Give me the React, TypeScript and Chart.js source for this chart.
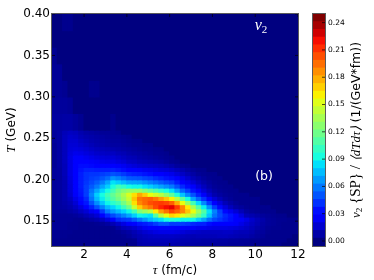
import { useEffect, useRef } from "react";
import { Chart, registerables } from "chart.js";
Chart.register(...registerables);

// tau column centres (fm/c), each cell 0.25 wide
const tauCenters = [0.625,0.875,1.125,1.375,1.625,1.875,2.125,2.375,2.625,2.875,3.125,3.375,3.625,3.875,4.125,4.375,4.625,4.875,5.125,5.375,5.625,5.875,6.125,6.375,6.625,6.875,7.125,7.375,7.625,7.875,8.125,8.375,8.625,8.875,9.125,9.375,9.625,9.875,10.125,10.375,10.625,10.875,11.125,11.375,11.625,11.875];
// T row edges (GeV), top to bottom
const tEdges = [0.40,0.38,0.36,0.34,0.32,0.30,0.28,0.26,0.255,0.25,0.245,0.24,0.235,0.23,0.225,0.22,0.215,0.21,0.205,0.20,0.195,0.19,0.185,0.18,0.175,0.17,0.165,0.16,0.155,0.15,0.145,0.14,0.135,0.13,0.125,0.12];
// v2 values x1000, one row per T band; missing trailing cells are 0
const v2Rows = [
[0,0,3,3],
[],
[4],
[5,5],
[5,5,4,0,0,0,0,3,3],
[6,6,6,5],
[7,7,8,8,6,4,0,0,0,0,0,3],
[6,8,12,14,13,10,8,7,6,5,5,4,3],
[6,8,13,16,15,12,10,9,8,7,6,5,5,4,3],
[6,8,13,17,17,14,12,10,9,8,7,6,6,5,4,3,3],
[5,8,13,18,18,16,14,12,10,9,8,7,7,6,5,4,4,3,3],
[5,8,13,19,20,19,17,15,13,12,11,10,9,8,7,6,5,4,4,3,3],
[5,8,13,20,23,22,20,18,16,15,14,14,12,11,9,8,7,6,5,4,4,3],
[5,8,13,21,26,26,24,22,20,19,18,18,16,14,12,11,9,8,7,6,5,4,3],
[5,8,13,21,28,29,28,26,25,23,22,22,20,18,15,14,12,11,10,9,8,6,4,3],
[5,8,12,21,29,33,33,32,30,29,28,28,26,24,21,19,17,16,15,14,13,11,9,6,4,3],
[6,7,12,21,30,35,38,38,37,37,37,38,36,33,30,28,26,24,23,21,19,18,16,13,10,7,5,3,3],
[6,7,12,21,30,37,42,43,43,45,47,50,48,44,40,38,37,35,33,30,27,25,23,19,15,11,8,5,4,3,3],
[6,7,11,20,30,37,42,45,47,51,56,66,62,57,52,51,50,47,45,41,38,35,33,27,22,17,12,9,6,4,3,3],
[6,7,10,19,30,37,43,48,53,60,70,85,80,75,70,69,68,64,60,56,52,48,45,37,30,24,18,13,9,6,4,3,3],
[6,7,10,18,29,37,45,52,60,70,80,93,105,100,92,90,90,85,80,75,70,65,60,50,40,33,26,19,13,8,5,4,3,3],
[6,7,10,18,27,36,45,58,70,82,92,105,118,125,130,130,130,122,115,108,100,92,85,70,55,45,35,26,18,12,7,5,4,3,3],
[6,7,10,17,26,35,45,62,80,92,105,115,125,137,150,165,180,170,155,148,140,128,115,95,78,63,50,38,26,17,10,7,5,4,3,3,3],
[6,7,10,14,22,32,40,58,75,88,100,110,120,132,145,172,192,196,198,192,182,172,160,140,115,92,70,55,42,28,18,12,7,5,3,3,3,3,3],
[6,7,9,12,18,27,36,50,65,78,90,98,105,120,135,165,188,196,203,206,208,205,198,178,155,130,105,83,63,45,30,20,12,8,5,3,3,3,3],
[6,7,8,10,14,20,28,38,50,62,75,82,90,103,118,145,170,184,192,204,214,220,224,208,188,162,135,110,88,65,45,32,20,13,8,6,4,3,3,3,3],
[6,6,6,8,10,14,18,24,30,44,60,68,75,82,90,105,125,132,140,162,182,194,206,198,188,172,155,132,110,85,62,46,32,24,18,12,7,5,4,3,3,3],
[5,5,5,5,6,8,11,14,18,28,40,48,55,62,70,80,90,88,85,110,140,155,168,163,153,145,135,118,100,78,58,48,40,35,30,20,12,10,8,6,5,4,3,3],
[5,5,5,5,4,4,6,8,10,14,20,29,40,43,45,52,60,67,75,80,85,92,95,93,90,90,90,80,70,57,48,43,38,34,30,26,22,16,12,9,6,5,4,4,3,3],
[5,5,5,4,4,3,3,3,4,5,7,11,16,21,26,31,35,37,40,45,50,50,45,45,45,43,40,38,38,33,30,29,28,27,26,22,18,14,11,8,6,5,4,3,3,3],
[5,5,5,4,4,3,3,3,3,3,3,4,8,12,14,17,21,25,28,30,31,31,31,29,28,26,26,24,24,22,21,21,21,20,19,17,15,12,9,7,5,4,4,3,3,3],
[4,4,4,4,3,3,3,3,3,3,3,3,4,6,8,11,14,17,19,21,22,22,22,21,19,17,16,15,14,14,14,14,15,15,13,12,12,10,7,6,4,3,3,3,3,3],
[4,4,4,3,3,3,3,3,3,3,3,3,3,4,6,9,11,13,14,15,15,15,15,14,13,12,11,12,12,12,12,13,13,12,11,10,10,8,6,5,3,3,3,3,3],
[3,3,3,3,3,3,3,3,3,3,3,3,3,3,3,4,10,11,12,12,12,12,12,11,10,10,9,9,8,8,8,7,7,6,6,5,5,4,4,3,3,3,3,3],
[3,3,3,3,3,3,3,3,3,3,3,3,3,3,3,3,9,10,10,10,10,10,10,9,9,8,8,7,7,7,6,6,6,5,5,5,4,4,3,3,3,3,3],
];
const tauTicks = [2, 4, 6, 8, 10, 12];
const tTicks = [0.15, 0.2, 0.25, 0.3, 0.35, 0.4];
const barTicks = [0, 0.03, 0.06, 0.09, 0.12, 0.15, 0.18, 0.21, 0.24];
const bandEdges = [-0.0055,0.003,0.0115,0.02,0.0285,0.037,0.0455,0.054,0.0625,0.071,0.0795,0.088,0.0965,0.105,0.1135,0.122,0.1305,0.139,0.1475,0.156,0.1645,0.173,0.1815,0.19,0.1985,0.207,0.2155,0.224,0.2325,0.241,0.2495];

const pw = (stops: number[][], n: number) => {
  for (let i = 1; i < stops.length; i++) {
    if (n <= stops[i][0]) {
      const [a, b] = [stops[i - 1], stops[i]];
      return a[1] + ((b[1] - a[1]) * (n - a[0])) / (b[0] - a[0]);
    }
  }
  return stops[stops.length - 1][1];
};
const jet = (n: number) => {
  const r = pw([[0,0],[0.35,0],[0.66,1],[0.89,1],[1,0.5]], n);
  const g = pw([[0,0],[0.125,0],[0.375,1],[0.64,1],[0.91,0],[1,0]], n);
  const b = pw([[0,0.5],[0.11,1],[0.34,1],[0.65,0],[1,0]], n);
  return `rgb(${Math.round(r * 255)},${Math.round(g * 255)},${Math.round(b * 255)})`;
};
const bandCount = bandEdges.length - 1;
const bandColor = (k: number) => jet(k / (bandCount - 1));
const valueColor = (v: number) => jet(Math.min(1, Math.max(0, v / 0.245)));

const SANS = '"DejaVu Sans"';
const SERIF = '"Liberation Serif"';
type Run = { t: string; font: string; dy?: number };
const drawRuns = (c: CanvasRenderingContext2D, runs: Run[], x: number, y: number, rot: boolean, color = "#000") => {
  c.save();
  c.translate(x, y);
  if (rot) c.rotate(-Math.PI / 2);
  c.fillStyle = color;
  c.textBaseline = "alphabetic";
  c.textAlign = "left";
  let total = 0;
  for (const r of runs) { c.font = r.font; total += c.measureText(r.t).width; }
  let p = -total / 2;
  for (const r of runs) {
    c.font = r.font;
    c.fillText(r.t, p, r.dy ?? 0);
    p += c.measureText(r.t).width;
  }
  c.restore();
};

const frame = (chart: any, xTicks: number[], yTicks: number[], yRightOnly: boolean) => {
  const { ctx: c, chartArea: a, scales } = chart;
  c.save();
  c.strokeStyle = "#000";
  c.lineWidth = 0.7;
  c.beginPath();
  for (const v of xTicks) {
    const p = scales.x.getPixelForValue(v);
    c.moveTo(p, a.bottom); c.lineTo(p, a.bottom - 3);
    c.moveTo(p, a.top); c.lineTo(p, a.top + 3);
  }
  for (const v of yTicks) {
    const p = scales.y.getPixelForValue(v);
    if (!yRightOnly) { c.moveTo(a.left, p); c.lineTo(a.left + 3, p); }
    c.moveTo(a.right, p); c.lineTo(a.right - 3, p);
  }
  c.stroke();
  c.strokeStyle = "#5a5a5a";
  c.lineWidth = 1;
  c.strokeRect(Math.round(a.left) - 0.5, Math.round(a.top) - 0.5, Math.round(a.right - a.left) + 1, Math.round(a.bottom - a.top) + 1);
  c.restore();
};

export default function App() {
  const mainRef = useRef<HTMLCanvasElement>(null);
  const barRef = useRef<HTMLCanvasElement>(null);

  useEffect(() => {
    const main = new Chart(mainRef.current!, {
      type: "bar",
      data: {
        datasets: v2Rows.map((row, r) => ({
          label: `T ${tEdges[r + 1]}-${tEdges[r]}`,
          data: tauCenters.map((t) => ({ x: t, y: [tEdges[r + 1], tEdges[r]] })),
          backgroundColor: tauCenters.map((_, i) => valueColor((row[i] ?? 0) / 1000)),
          borderWidth: 0,
          inflateAmount: 0.6,
          barPercentage: 1,
          categoryPercentage: 1,
          grouped: false,
        })),
      } as any,
      options: {
        responsive: false,
        animation: false,
        devicePixelRatio: 1,
        layout: { padding: { left: 0, top: 14, right: 76, bottom: 0 } },
        plugins: { legend: { display: false }, tooltip: { enabled: false } },
        scales: {
          x: {
            type: "linear", min: 0.5, max: 12, offset: false,
            grid: { display: false, drawTicks: false }, border: { display: false },
            afterBuildTicks: (s: any) => { s.ticks = tauTicks.map((value) => ({ value })); },
            afterFit: (s: any) => { s.height = 34; },
            ticks: { color: "#000", padding: 2, maxRotation: 0, autoSkip: false, font: { family: SANS, size: 12 }, callback: (v: any) => String(v) },
          },
          y: {
            type: "linear", min: 0.12, max: 0.4,
            grid: { display: false, drawTicks: false }, border: { display: false },
            afterBuildTicks: (s: any) => { s.ticks = tTicks.map((value) => ({ value })); },
            afterFit: (s: any) => { s.width = 52; },
            ticks: { color: "#000", padding: 2, autoSkip: false, font: { family: SANS, size: 12 }, callback: (v: any) => Number(v).toFixed(2) },
          },
        },
      } as any,
      plugins: [{
        id: "decor",
        afterDatasetsDraw(chart: any) {
          const c = chart.ctx;
          frame(chart, tauTicks, tTicks, false);
          drawRuns(c, [{ t: "v", font: `italic 16px ${SERIF}` }, { t: "2", font: `11px ${SERIF}`, dy: 3 }], 261, 30, false, "#fff");
          drawRuns(c, [{ t: "(b)", font: `12.5px ${SANS}` }], 264, 180, false, "#fff");
          drawRuns(c, [{ t: "\u03c4", font: `italic 13px ${SERIF}` }, { t: " (fm/c)", font: `12px ${SANS}` }], 175, 274, false);
          drawRuns(c, [{ t: "T", font: `italic 13px ${SERIF}` }, { t: " (GeV)", font: `12px ${SANS}` }], 15, 130, true);
        },
      }],
    });

    const bar = new Chart(barRef.current!, {
      type: "bar",
      data: {
        labels: ["v2"],
        datasets: bandEdges.slice(0, -1).map((lo, k) => ({
          label: `band ${k}`,
          data: [[lo, bandEdges[k + 1]]],
          backgroundColor: bandColor(k),
          borderWidth: 0,
          inflateAmount: 0.5,
          barPercentage: 1,
          categoryPercentage: 1,
          grouped: false,
        })),
      } as any,
      options: {
        responsive: false,
        animation: false,
        devicePixelRatio: 1,
        layout: { padding: { left: 13, top: 14, right: 0, bottom: 34 } },
        plugins: { legend: { display: false }, tooltip: { enabled: false } },
        scales: {
          x: { display: false },
          y: {
            position: "right", type: "linear", min: -0.0055, max: 0.2495,
            grid: { display: false, drawTicks: false }, border: { display: false },
            afterBuildTicks: (s: any) => { s.ticks = barTicks.map((value) => ({ value })); },
            afterFit: (s: any) => { s.width = 49; },
            ticks: { color: "#000", padding: 3, autoSkip: false, font: { family: SANS, size: 7.5 }, callback: (v: any) => Number(v).toFixed(2) },
          },
        },
      } as any,
      plugins: [{
        id: "barDecor",
        afterDatasetsDraw(chart: any) {
          const c = chart.ctx;
          const { chartArea: a, scales } = chart;
          c.save();
          c.strokeStyle = "#000";
          c.lineWidth = 0.7;
          c.beginPath();
          for (const v of barTicks) {
            const p = scales.y.getPixelForValue(v);
            c.moveTo(a.right, p); c.lineTo(a.right - 3, p);
          }
          c.stroke();
          c.strokeStyle = "#5a5a5a";
          c.lineWidth = 1;
          c.strokeRect(Math.round(a.left) - 0.5, Math.round(a.top) - 0.5, Math.round(a.right - a.left) + 1, Math.round(a.bottom - a.top) + 1);
          c.restore();
          drawRuns(c, [
            { t: "v", font: `italic 13px ${SERIF}` },
            { t: "2", font: `9px ${SERIF}`, dy: 2 },
            { t: " {SP} / ", font: `15px ${SERIF}` },
            { t: "\u27e8dTd\u03c4\u27e9", font: `italic 13px ${SERIF}` },
            { t: " (1/(GeV*fm))", font: `12.5px ${SANS}` },
          ], 60, 130, true);
        },
      }],
    });

    return () => { main.destroy(); bar.destroy(); };
  }, []);

  return (
    <div style={{ position: "fixed", left: 0, top: 0, width: 374, height: 280, background: "#fff" }}>
      <canvas ref={mainRef} width={374} height={280} style={{ position: "absolute", left: 0, top: 0 }} />
      <canvas ref={barRef} width={74} height={280} style={{ position: "absolute", left: 300, top: 0 }} />
    </div>
  );
}
